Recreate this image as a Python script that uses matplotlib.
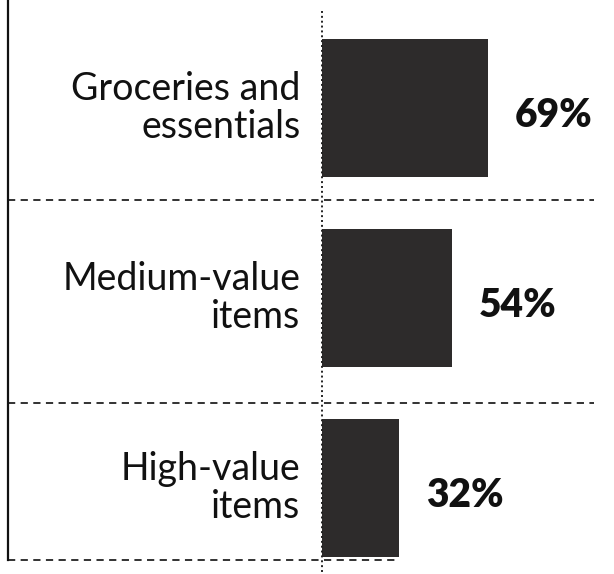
import matplotlib
matplotlib.use("Agg")
from matplotlib import pyplot as plt

categories = ["Groceries and\nessentials", "Medium-value\nitems", "High-value\nitems"]
shares = [69, 54, 32]
share_labels = ["69%", "54%", "32%"]

fig = plt.figure(figsize=(6.14, 5.74), dpi=100)
ax = fig.add_axes([0, 0, 1, 1])

px_per_pct = 2.41
x_zero_px = 322
ax.set_xlim(-x_zero_px / px_per_pct, (614 - x_zero_px) / px_per_pct)

row_px = 190
first_px = 108
ax.set_ylim((574 - first_px) / row_px, -first_px / row_px)

ypos = list(range(len(categories)))
ax.barh(ypos, shares, height=0.73, color="#2d2b2b", edgecolor="none", zorder=2)

for y, cat, v, lab in zip(ypos, categories, shares, share_labels):
    ax.text(-9, y, cat, ha="right", va="center", fontsize=27,
            family="Lato", color="#111111", linespacing=1.1)
    ax.text(v + 11, y + 0.04, lab, ha="left", va="center", fontsize=28,
            family="Lato", fontweight="heavy", color="#111111")

# row separators
left_x = -x_zero_px / px_per_pct + 8 / px_per_pct
for ysep, xend in [(0.484, 113), (1.55, 113), (2.38, 32)]:
    ax.plot([left_x, xend], [ysep, ysep], ls=(0, (4, 3)), lw=1.3,
            color="#222222", zorder=1)

# left frame line and dotted axis line
ax.plot([left_x, left_x], [-1, 2.38], color="#111111", lw=1.6, zorder=1)
ax.plot([0, 0], [-0.51, 3], ls=(0, (1, 1.5)), lw=1.4, color="#222222", zorder=3)

ax.axis("off")
fig.savefig("out.png", dpi=100, facecolor="white")
